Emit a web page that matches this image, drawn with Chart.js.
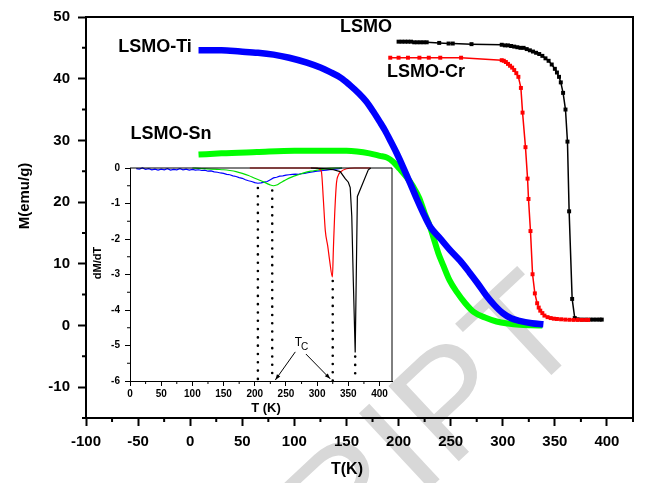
<!DOCTYPE html>
<html>
<head>
<meta charset="utf-8">
<script src="https://cdn.jsdelivr.net/npm/chart.js@4.4.0/dist/chart.umd.min.js"></script>
<style>
  html, body { margin: 0; padding: 0; background: #fff; }
  #wrap { position: relative; width: 649px; height: 483px; overflow: hidden; }
  canvas { position: absolute; }
  #main { left: 0; top: 0; }
  #inset { left: 80px; top: 150px; }
</style>
</head>
<body>
<div id="wrap">
  <canvas id="main" width="649" height="483"></canvas>
  <canvas id="inset" width="340" height="270"></canvas>
</div>
<script>
// ---- main plot: M(T) ----
const mainXTicks = [-100, -50, 0, 50, 100, 150, 200, 250, 300, 350, 400];
const mainYTicks = [-10, 0, 10, 20, 30, 40, 50];

const crT = [192, 200, 209, 220, 229, 240, 260, 299, 301, 303, 305, 307, 309, 311, 313, 315, 317.4, 319, 321.8, 323.8, 324.7, 326.6, 328.6, 330.8, 333, 334.5, 336, 338, 340, 343, 346, 349, 352, 356, 360, 364, 368, 372, 376, 380, 382];
const crM = [43.4, 43.4, 43.4, 43.4, 43.4, 43.4, 43.4, 43.0, 42.9, 42.7, 42.4, 42.1, 41.8, 41.4, 40.9, 40.3, 38.5, 34.5, 28.9, 23.8, 20.5, 15.3, 8.3, 5.2, 3.6, 2.9, 2.4, 2.0, 1.6, 1.35, 1.2, 1.1, 1.05, 1.0, 0.95, 0.92, 0.9, 0.9, 0.9, 0.9, 0.9];

const lsmoT = [200, 203, 206, 209, 212, 215, 218, 221, 224, 227, 239, 248, 252, 270, 299, 302, 305, 308, 311, 314, 317, 320, 323, 326, 329, 332, 335, 338, 341, 344, 347, 350, 352, 354, 355.7, 357.9, 360.2, 362.1, 363.7, 366.6, 369.1, 372, 376, 380, 384, 387, 390, 393, 395];
const lsmoM = [46.0, 46.0, 46.0, 46.0, 46.0, 45.9, 45.9, 45.9, 45.9, 45.9, 45.8, 45.7, 45.7, 45.6, 45.5, 45.4, 45.4, 45.3, 45.2, 45.1, 45.0, 45.0, 44.8, 44.6, 44.4, 44.2, 44.0, 43.7, 43.3, 42.9, 42.3, 41.6, 41.0, 40.3, 39.4, 37.7, 35.0, 29.8, 18.5, 4.3, 1.2, 1.0, 0.95, 0.95, 0.95, 0.95, 0.95, 0.95, 0.95];

const tiT = [8, 30, 48, 65, 80, 95, 112, 125, 134, 145, 153, 162, 169, 176, 182, 187, 192, 198, 204, 211, 217, 224, 230, 240, 249, 259, 268, 276, 284, 292, 300, 308, 316, 328, 339];
const tiM = [44.6, 44.6, 44.4, 44.2, 43.9, 43.4, 42.6, 41.8, 41.1, 40.1, 39.0, 37.6, 36.3, 34.6, 33.0, 31.6, 30.0, 28.0, 25.8, 23.1, 20.7, 18.1, 16.1, 14.1, 12.3, 10.5, 8.6, 6.8, 4.9, 3.3, 2.0, 1.17, 0.75, 0.37, 0.2];

const snT = [8, 30, 64, 100, 128, 150, 160, 172, 182, 189, 195, 201, 208, 214, 220, 225, 230, 233, 238, 243, 249, 256, 264, 272, 283, 294, 305, 316, 327, 338];
const snM = [27.7, 27.9, 28.1, 28.3, 28.3, 28.3, 28.2, 27.9, 27.5, 27.2, 26.5, 25.4, 24.0, 22.5, 20.6, 18.2, 16.1, 14.5, 11.8, 9.7, 7.3, 5.4, 3.6, 2.2, 1.28, 0.64, 0.3, 0.1, 0.03, 0];

// ---- inset: dM/dT ----
const insetXTicks = [0, 50, 100, 150, 200, 250, 300, 350, 400];
const insetYTicks = [-6, -5, -4, -3, -2, -1, 0];

const dTiT = [10, 15, 20, 25, 30, 35, 40, 45, 50, 55, 60, 65, 70, 75, 80, 85, 90, 95, 100, 105, 110, 115, 120, 125, 130, 135, 140, 145, 150, 155, 160, 165, 170, 175, 180, 185, 190, 195, 200, 205, 210, 215, 220, 225, 230, 235, 240, 245, 250, 255, 260, 265, 270, 275, 280, 285, 290, 295, 300, 305, 310, 315, 320, 325, 330, 335, 340];
const dTiV = [-0.02, -0.03, 0.0, -0.04, -0.02, -0.05, -0.03, -0.06, -0.03, -0.05, -0.02, -0.06, -0.04, -0.05, -0.02, -0.05, -0.03, -0.06, -0.04, -0.06, -0.05, -0.07, -0.06, -0.09, -0.08, -0.11, -0.12, -0.14, -0.15, -0.18, -0.19, -0.22, -0.24, -0.27, -0.29, -0.33, -0.36, -0.38, -0.41, -0.43, -0.42, -0.40, -0.38, -0.33, -0.28, -0.26, -0.23, -0.22, -0.20, -0.19, -0.18, -0.17, -0.18, -0.16, -0.15, -0.13, -0.12, -0.10, -0.09, -0.08, -0.07, -0.06, -0.05, -0.04, -0.03, -0.02, 0.0];

const dSnT = [100, 110, 120, 130, 140, 150, 160, 170, 180, 190, 200, 210, 220, 225, 230, 235, 240, 245, 250, 260, 270, 280, 290, 300, 310, 320, 330, 340];
const dSnV = [0, -0.01, -0.02, -0.03, -0.04, -0.05, -0.07, -0.1, -0.15, -0.21, -0.29, -0.36, -0.44, -0.48, -0.50, -0.48, -0.43, -0.38, -0.33, -0.25, -0.19, -0.13, -0.09, -0.06, -0.03, -0.01, 0, 0];

const dCrT = [192, 300, 305, 307, 310, 313, 317, 320, 324.5, 326, 328, 331, 334, 337, 347, 360, 385];
const dCrV = [0, 0, -0.05, -0.12, -0.9, -1.75, -2.2, -2.6, -3.07, -2.3, -1.35, -0.42, -0.2, -0.12, -0.02, 0, 0];

const dLsmoT = [290, 310, 326, 337, 345, 350, 353, 355.5, 358, 361, 364.5, 382, 386];
const dLsmoV = [0, -0.02, -0.05, -0.1, -0.3, -0.4, -0.55, -1.35, -3.2, -5.2, -0.8, -0.05, 0];

// T_C markers (inset units)
const tcX = [205, 228, 325, 361];
const tcTop = [-0.45, -0.52, -3.07, -5.2];

const FONT = '"Liberation Sans", Arial, Helvetica, sans-serif';

function pts(xs, ys) {
    return xs.map((x, i) => ({ x: x, y: ys[i] }));
}

// draws minor ticks and the closing top/right frame lines
function framePlugin(id, opts) {
    return {
        id: id,
        afterDraw(chart) {
            const { ctx, chartArea: a, scales: { x, y } } = chart;
            ctx.save();
            ctx.strokeStyle = '#000';
            ctx.lineWidth = opts.width;
            ctx.beginPath();
            ctx.moveTo(a.left, a.top);
            ctx.lineTo(a.right, a.top);
            ctx.lineTo(a.right, a.bottom);
            ctx.stroke();

            ctx.beginPath();
            for (let v = x.min; v <= x.max; v += opts.xMinor) {
                if (opts.xMajor.includes(v)) continue;
                const px = x.getPixelForValue(v);
                ctx.moveTo(px, a.bottom);
                ctx.lineTo(px, a.bottom + opts.minorLen);
            }
            for (let v = y.min; v <= y.max + 1e-9; v += opts.yMinor) {
                if (opts.yMajor.some(m => Math.abs(m - v) < 1e-9)) continue;
                const py = y.getPixelForValue(v);
                ctx.moveTo(a.left, py);
                ctx.lineTo(a.left - opts.minorLen, py);
            }
            ctx.stroke();
            ctx.restore();
        }
    };
}

const mainText = {
    id: 'mainText',
    beforeDraw(chart) {
        // faint watermark behind the plot
        const ctx = chart.ctx;
        ctx.save();
        ctx.translate(590, 339);
        ctx.rotate(-43 * Math.PI / 180);
        ctx.font = '150px ' + FONT;
        ctx.fillStyle = '#d8d8d8';
        ctx.textAlign = 'right';
        ctx.textBaseline = 'alphabetic';
        ctx.fillText('RIPT', 0, 0);
        ctx.restore();
    },
    afterDraw(chart) {
        const ctx = chart.ctx;
        ctx.save();
        ctx.fillStyle = '#000';
        ctx.textAlign = 'center';
        ctx.textBaseline = 'middle';
        ctx.font = 'bold 18px ' + FONT;
        ctx.fillText('LSMO-Ti', 155, 47);
        ctx.fillText('LSMO-Sn', 171, 134);
        ctx.fillText('LSMO', 366, 27);
        ctx.fillText('LSMO-Cr', 426, 72);

        ctx.font = 'bold 16px ' + FONT;
        ctx.fillText('T(K)', 347, 470);
        ctx.translate(25, 196);
        ctx.rotate(-Math.PI / 2);
        ctx.font = 'bold 15px ' + FONT;
        ctx.fillText('M(emu/g)', 0, 0);
        ctx.restore();
    }
};

const insetText = {
    id: 'insetText',
    afterDatasetsDraw(chart) {
        const { ctx, scales: { x, y } } = chart;
        ctx.save();
        // dotted lines at T_C
        ctx.strokeStyle = '#000';
        ctx.lineWidth = 2.6;
        ctx.lineCap = 'round';
        ctx.setLineDash([0, 8.3]);
        tcX.forEach((t, i) => {
            const px = x.getPixelForValue(t);
            ctx.beginPath();
            ctx.moveTo(px, y.getPixelForValue(tcTop[i]) + 4);
            ctx.lineTo(px, y.getPixelForValue(-6));
            ctx.stroke();
        });
        ctx.setLineDash([]);
        ctx.lineCap = 'butt';

        // arrows to T_C
        const arrow = (x0, y0, x1, y1) => {
            const ax = x.getPixelForValue(x0), ay = y.getPixelForValue(y0);
            const bx = x.getPixelForValue(x1), by = y.getPixelForValue(y1);
            ctx.lineWidth = 1;
            ctx.beginPath();
            ctx.moveTo(ax, ay);
            ctx.lineTo(bx, by);
            ctx.stroke();
            const ang = Math.atan2(by - ay, bx - ax);
            ctx.beginPath();
            ctx.moveTo(bx, by);
            ctx.lineTo(bx - 6 * Math.cos(ang - 0.35), by - 6 * Math.sin(ang - 0.35));
            ctx.lineTo(bx - 6 * Math.cos(ang + 0.35), by - 6 * Math.sin(ang + 0.35));
            ctx.closePath();
            ctx.fill();
        };
        ctx.fillStyle = '#000';
        arrow(265, -5.18, 233, -5.97);
        arrow(282, -5.24, 321, -5.94);

        ctx.textAlign = 'center';
        ctx.textBaseline = 'middle';
        ctx.font = '12px ' + FONT;
        ctx.fillText('T', x.getPixelForValue(270), y.getPixelForValue(-4.93));
        ctx.font = '10px ' + FONT;
        ctx.fillText('C', x.getPixelForValue(280), y.getPixelForValue(-5.06));
        ctx.restore();
    },
    afterDraw(chart) {
        const ctx = chart.ctx;
        ctx.save();
        ctx.fillStyle = '#000';
        ctx.textAlign = 'center';
        ctx.textBaseline = 'middle';
        ctx.font = 'bold 13px ' + FONT;
        ctx.fillText('T (K)', 186, 258);
        ctx.translate(18, 113);
        ctx.rotate(-Math.PI / 2);
        ctx.font = 'bold 11px ' + FONT;
        ctx.fillText('dM/dT', 0, 0);
        ctx.restore();
    }
};

function mainChart() {
    const sq = { pointStyle: 'rect', pointRadius: 2.8, pointBorderWidth: 0, borderWidth: 1.5, showLine: true };
    new Chart(document.getElementById('main'), {
        type: 'scatter',
        data: {
            datasets: [
                Object.assign({ label: 'LSMO-Cr', data: pts(crT, crM), borderColor: '#ff0000', pointBackgroundColor: '#ff0000' }, sq),
                Object.assign({ label: 'LSMO', data: pts(lsmoT, lsmoM), borderColor: '#000000', pointBackgroundColor: '#000000' }, sq),
                { label: 'LSMO-Ti', data: pts(tiT, tiM), borderColor: '#0000ff', borderWidth: 6.5, pointRadius: 0, showLine: true, cubicInterpolationMode: 'monotone' },
                { label: 'LSMO-Sn', data: pts(snT, snM), borderColor: '#00ff00', borderWidth: 6, pointRadius: 0, showLine: true, cubicInterpolationMode: 'monotone' }
            ]
        },
        options: {
            responsive: false,
            animation: false,
            layout: { padding: { left: 0, right: 16, top: 11, bottom: 0 } },
            plugins: { legend: { display: false }, tooltip: { enabled: false } },
            scales: {
                x: {
                    type: 'linear', min: -100, max: 425,
                    afterBuildTicks: s => { s.ticks = mainXTicks.map(v => ({ value: v })); },
                    afterFit: s => { s.height = 65; },
                    grid: { drawOnChartArea: false, drawTicks: true, tickLength: 8, tickWidth: 2, tickColor: '#000' },
                    border: { display: true, color: '#000', width: 2 },
                    ticks: { color: '#000', padding: 7, maxRotation: 0, font: { family: FONT, size: 15, weight: 'bold' } }
                },
                y: {
                    type: 'linear', min: -15, max: 50,
                    afterBuildTicks: s => { s.ticks = mainYTicks.map(v => ({ value: v })); },
                    afterFit: s => { s.width = 86; },
                    grid: { drawOnChartArea: false, drawTicks: true, tickLength: 8, tickWidth: 2, tickColor: '#000' },
                    border: { display: true, color: '#000', width: 2 },
                    ticks: { color: '#000', padding: 8, font: { family: FONT, size: 15, weight: 'bold' } }
                }
            }
        },
        plugins: [mainText, framePlugin('mainFrame', { width: 2, minorLen: 4, xMinor: 25, yMinor: 5, xMajor: mainXTicks, yMajor: mainYTicks })]
    });
}

function insetChart() {
    const thin = { borderWidth: 1.2, pointRadius: 0, showLine: true, clip: 4 };
    new Chart(document.getElementById('inset'), {
        type: 'scatter',
        data: {
            datasets: [
                Object.assign({ label: 'LSMO', data: pts(dLsmoT, dLsmoV), borderColor: '#000000' }, thin),
                Object.assign({ label: 'LSMO-Cr', data: pts(dCrT, dCrV), borderColor: '#ff0000', cubicInterpolationMode: 'monotone' }, thin),
                Object.assign({ label: 'LSMO-Sn', data: pts(dSnT, dSnV), borderColor: '#00e000', cubicInterpolationMode: 'monotone' }, thin),
                Object.assign({ label: 'LSMO-Ti', data: pts(dTiT, dTiV), borderColor: '#0000ff', borderWidth: 1 }, thin)
            ]
        },
        options: {
            responsive: false,
            animation: false,
            layout: { padding: { left: 0, right: 28, top: 18, bottom: 0 } },
            plugins: { legend: { display: false }, tooltip: { enabled: false } },
            scales: {
                x: {
                    type: 'linear', min: 0, max: 420,
                    afterBuildTicks: s => { s.ticks = insetXTicks.map(v => ({ value: v })); },
                    afterFit: s => { s.height = 39; },
                    grid: { drawOnChartArea: false, drawTicks: true, tickLength: 5, tickWidth: 1, tickColor: '#000' },
                    border: { display: true, color: '#000', width: 1 },
                    ticks: { color: '#000', padding: 2, maxRotation: 0, font: { family: FONT, size: 10, weight: 'bold' } }
                },
                y: {
                    type: 'linear', min: -6, max: 0,
                    afterBuildTicks: s => { s.ticks = insetYTicks.map(v => ({ value: v })); },
                    afterFit: s => { s.width = 50; },
                    grid: { drawOnChartArea: false, drawTicks: true, tickLength: 5, tickWidth: 1, tickColor: '#000' },
                    border: { display: true, color: '#000', width: 1 },
                    ticks: { color: '#000', padding: 5, font: { family: FONT, size: 10, weight: 'bold' } }
                }
            }
        },
        plugins: [insetText, framePlugin('insetFrame', { width: 1, minorLen: 3, xMinor: 25, yMinor: 0.5, xMajor: insetXTicks, yMajor: insetYTicks })]
    });
}

mainChart();
insetChart();
</script>
</body>
</html>
